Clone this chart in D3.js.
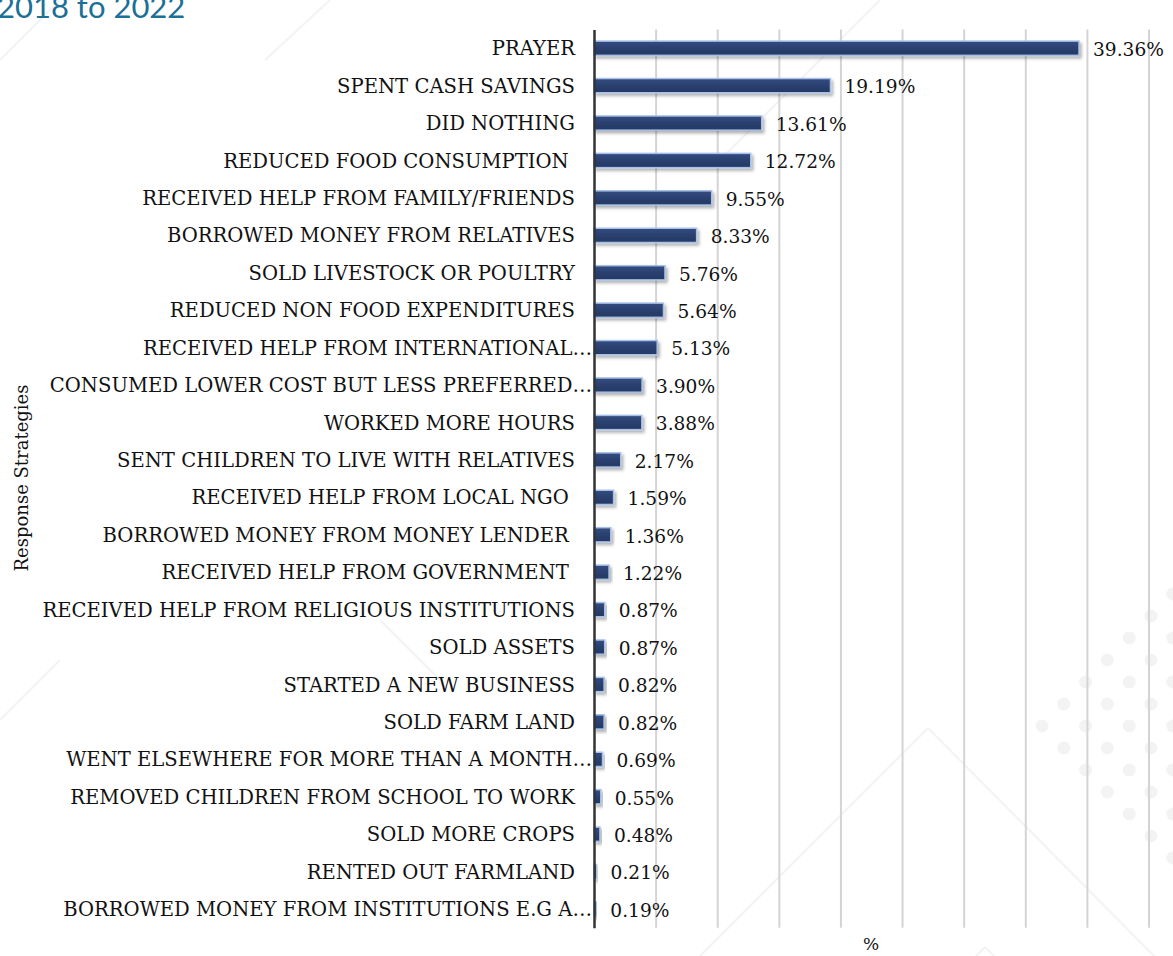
<!DOCTYPE html>
<html>
<head>
<meta charset="utf-8">
<script src="https://cdn.jsdelivr.net/npm/d3@7"></script>
<style>
  html, body { margin: 0; padding: 0; background: #ffffff; }
  svg { display: block; }
  text { white-space: pre; }
</style>
</head>
<body>
<script>
// Response strategies and share of households (%)
const categories = [
  "PRAYER",
  "SPENT CASH SAVINGS",
  "DID NOTHING",
  "REDUCED FOOD CONSUMPTION ",
  "RECEIVED HELP FROM FAMILY/FRIENDS",
  "BORROWED MONEY FROM RELATIVES",
  "SOLD LIVESTOCK OR POULTRY",
  "REDUCED NON FOOD EXPENDITURES",
  "RECEIVED HELP FROM INTERNATIONAL…",
  "CONSUMED LOWER COST BUT LESS PREFERRED…",
  "WORKED MORE HOURS",
  "SENT CHILDREN TO LIVE WITH RELATIVES",
  "RECEIVED HELP FROM LOCAL NGO ",
  "BORROWED MONEY FROM MONEY LENDER ",
  "RECEIVED HELP FROM GOVERNMENT ",
  "RECEIVED HELP FROM RELIGIOUS INSTITUTIONS",
  "SOLD ASSETS",
  "STARTED A NEW BUSINESS",
  "SOLD FARM LAND",
  "WENT ELSEWHERE FOR MORE THAN A MONTH…",
  "REMOVED CHILDREN FROM SCHOOL TO WORK",
  "SOLD MORE CROPS",
  "RENTED OUT FARMLAND",
  "BORROWED MONEY FROM INSTITUTIONS E.G A…"
];
const values = [39.36, 19.19, 13.61, 12.72, 9.55, 8.33, 5.76, 5.64, 5.13, 3.90, 3.88,
  2.17, 1.59, 1.36, 1.22, 0.87, 0.87, 0.82, 0.82, 0.69, 0.55, 0.48, 0.21, 0.19];
const xTicks = [0, 5, 10, 15, 20, 25, 30, 35, 40, 45];
const titleText = "2018 to 2022";
const xTitle = "%";
const yTitle = "Response Strategies";

const W = 1173, H = 956;
const data = categories.map((c, i) => ({ cat: c, val: values[i] }));

const svg = d3.select("body").append("svg").attr("width", W).attr("height", H);

const defs = svg.append("defs");
const shadow = defs.append("filter").attr("id", "barShadow")
  .attr("x", "-10%").attr("y", "-40%").attr("width", "130%").attr("height", "200%");
shadow.append("feDropShadow").attr("dx", 2).attr("dy", 2.5).attr("stdDeviation", 1.6)
  .attr("flood-color", "#000").attr("flood-opacity", 0.3);
const grad = defs.append("linearGradient").attr("id", "barFill")
  .attr("x1", 0).attr("y1", 0).attr("x2", 0).attr("y2", 1);
grad.append("stop").attr("offset", "0%").attr("stop-color", "#344c80");
grad.append("stop").attr("offset", "50%").attr("stop-color", "#2a4070");
grad.append("stop").attr("offset", "100%").attr("stop-color", "#243862");

// faint slide decoration: diagonal strokes and a dot field
const deco = svg.append("g").attr("class", "deco");
const decoLines = [
  [[0, 60], [60, 0]], [[265, 60], [330, 0]], [[880, 0], [720, 160]],
  [[928, 728], [1173, 975]], [[928, 728], [700, 956]],
  [[985, 947], [976, 956]], [[985, 947], [994, 956]],
  [[0, 720], [60, 660]], [[380, 620], [440, 680]]
];
decoLines.forEach(l => deco.append("line")
  .attr("x1", l[0][0]).attr("y1", l[0][1]).attr("x2", l[1][0]).attr("y2", l[1][1])
  .attr("stroke", "#f3f3f3").attr("stroke-width", 2));
const dots = [];
d3.range(0, 7).forEach(i => d3.range(0, 14).forEach(j => {
  if ((i + j) % 2) return;
  const cx = 1042 + i * 21.8, cy = 594 + j * 22;
  if (cx - 1042 >= Math.abs(cy - 726) - 2 && cy < 880) dots.push([cx, cy]);
}));
deco.selectAll("circle").data(dots).join("circle")
  .attr("cx", d => d[0]).attr("cy", d => d[1]).attr("r", 6.5).attr("fill", "#f3f3f3");

// title fragment at the top of the page
svg.append("text").attr("x", -3).attr("y", 18)
  .attr("font-family", "Lato, 'Open Sans', sans-serif").attr("font-size", 31)
  .attr("fill", "#1c6f96").text(titleText);

const plotTop = 29.5, plotBottom = 927.8;
const x = d3.scaleLinear().domain([0, 45]).range([594, 1148.5]);
const y = d3.scaleBand().domain(categories).range([plotTop, plotBottom])
  .paddingInner(0.62).paddingOuter(0.31);

// vertical gridlines
const xAxis = d3.axisBottom(x).tickValues(xTicks).tickSize(-(plotBottom - plotTop)).tickFormat("");
const gx = svg.append("g").attr("transform", `translate(0,${plotBottom})`).call(xAxis);
gx.select(".domain").remove();
gx.selectAll(".tick line").attr("stroke", "#d4d4d4").attr("stroke-width", 2);
gx.selectAll(".tick").filter(d => d === 0).remove();

// bars
svg.append("g").selectAll("rect").data(data).join("rect")
  .attr("x", x(0))
  .attr("y", d => y(d.cat))
  .attr("width", d => x(d.val) - x(0))
  .attr("height", y.bandwidth())
  .attr("fill", "url(#barFill)")
  .attr("stroke", "#a6c1e8")
  .attr("stroke-width", 1.5)
  .attr("filter", "url(#barShadow)");

// category axis
const yAxis = d3.axisLeft(y).tickSize(0).tickPadding(0);
const gy = svg.append("g").attr("transform", `translate(${x(0)},0)`).call(yAxis);
gy.select(".domain").attr("stroke", "#333").attr("stroke-width", 2.5);
gy.selectAll(".tick text")
  .attr("font-family", "'DejaVu Serif', Georgia, serif")
  .attr("font-size", 19.6)
  .attr("fill", "#111")
  .attr("x", d => d.endsWith("…") ? -2 : -19)
  .attr("dy", "0.36em");

// value labels
svg.append("g").selectAll("text").data(data).join("text")
  .attr("x", d => x(d.val) + 14)
  .attr("y", d => y(d.cat) + y.bandwidth() / 2)
  .attr("dy", "0.42em")
  .attr("font-family", "'DejaVu Serif', Georgia, serif")
  .attr("font-size", 18.6)
  .attr("fill", "#111")
  .text(d => d.val.toFixed(2) + "%");

// axis titles
svg.append("text").attr("x", 871).attr("y", 950).attr("text-anchor", "middle")
  .attr("font-family", "'DejaVu Serif', Georgia, serif").attr("font-size", 17)
  .attr("fill", "#111").text(xTitle);
svg.append("text")
  .attr("transform", "translate(28,478) rotate(-90)")
  .attr("text-anchor", "middle")
  .attr("font-family", "'DejaVu Serif', Georgia, serif").attr("font-size", 18)
  .attr("fill", "#111").text(yTitle);
</script>
</body>
</html>
